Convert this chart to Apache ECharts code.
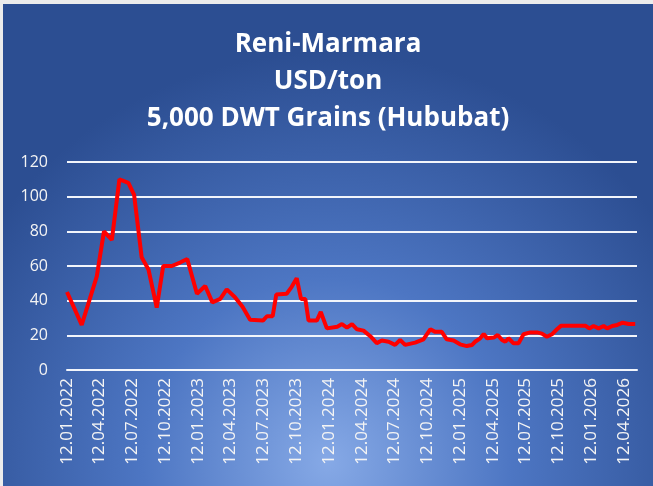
<!DOCTYPE html>
<html>
<head>
<meta charset="utf-8">
<script src="https://cdn.jsdelivr.net/npm/echarts@6/dist/echarts.min.js"></script>
<style>
  html, body { margin: 0; padding: 0; background: #ececec; }
  #chartArea { position: absolute; left: 3px; top: 4px; width: 650px; height: 482px; }
</style>
</head>
<body>
<div id="chartArea"></div>
<script>
let titleText = 'Reni-Marmara\nUSD/ton\n5,000 DWT Grains (Hububat)';

let dates = [
    '2022-01-12', '2022-02-22', '2022-04-05', '2022-04-25', '2022-05-17', '2022-06-07',
    '2022-07-02', '2022-07-18', '2022-08-08', '2022-08-27', '2022-09-19', '2022-10-07',
    '2022-10-31', '2022-11-23', '2022-12-13', '2023-01-09', '2023-02-01', '2023-02-21',
    '2023-03-15', '2023-04-02', '2023-04-25', '2023-05-16', '2023-06-06', '2023-07-12',
    '2023-07-23', '2023-08-08', '2023-08-18', '2023-09-16', '2023-09-30', '2023-10-14',
    '2023-10-26', '2023-11-07', '2023-11-16', '2023-12-09', '2023-12-20', '2024-01-06',
    '2024-02-04', '2024-02-17', '2024-03-02', '2024-03-16', '2024-03-30', '2024-04-17',
    '2024-05-06', '2024-05-24', '2024-06-07', '2024-06-26', '2024-07-14', '2024-07-28',
    '2024-08-11', '2024-09-08', '2024-10-01', '2024-10-20', '2024-11-03', '2024-11-21',
    '2024-12-05', '2024-12-24', '2025-01-11', '2025-01-30', '2025-02-13', '2025-02-22',
    '2025-03-08', '2025-03-18', '2025-03-27', '2025-04-15', '2025-04-26', '2025-05-08',
    '2025-05-17', '2025-05-26', '2025-06-09', '2025-06-23', '2025-07-07', '2025-07-26',
    '2025-08-13', '2025-08-27', '2025-09-10', '2025-09-24', '2025-10-08', '2025-10-20',
    '2025-12-26', '2026-01-06', '2026-01-18', '2026-02-01', '2026-02-15', '2026-02-25',
    '2026-03-11', '2026-03-25', '2026-04-09', '2026-04-26', '2026-05-14'
];

let values = [
    45, 26, 54, 80, 75, 110,
    108, 101, 65, 58, 36, 60,
    60, 62, 64, 44, 48.5, 39,
    41, 46.5, 42, 36.5, 29, 28.5,
    31, 31, 43.5, 44, 48, 53,
    41, 41, 28.5, 28.5, 33.5, 24,
    25, 26.5, 24.5, 26.5, 23.5, 22.7,
    19.5, 15.5, 17, 16.3, 14.5, 17.3,
    14.5, 15.8, 17.7, 23.5, 22, 22,
    17.7, 17, 14.8, 13.8, 14.4, 16.3,
    18.3, 20.8, 18.3, 18.7, 20.2, 17.3,
    16.3, 18.3, 15.4, 15.4, 20.6, 21.7,
    21.7, 21, 19.2, 20.6, 23.5, 25.6,
    25.6, 24, 25.4, 24, 25.4, 24,
    25.4, 26, 27.3, 26.5, 26.5
];

let tickDates = [
    '2022-01-12', '2022-04-12', '2022-07-12', '2022-10-12',
    '2023-01-12', '2023-04-12', '2023-07-12', '2023-10-12',
    '2024-01-12', '2024-04-12', '2024-07-12', '2024-10-12',
    '2025-01-12', '2025-04-12', '2025-07-12', '2025-10-12',
    '2026-01-12', '2026-04-12'
];
let tickLabels = [
    '12.01.2022', '12.04.2022', '12.07.2022', '12.10.2022',
    '12.01.2023', '12.04.2023', '12.07.2023', '12.10.2023',
    '12.01.2024', '12.04.2024', '12.07.2024', '12.10.2024',
    '12.01.2025', '12.04.2025', '12.07.2025', '12.10.2025',
    '12.01.2026', '12.04.2026'
];
let axisEnd = '2026-05-19';

// days counted from the first date, so the x axis can be a plain value axis
function toDay(s) {
    let p = s.split('-');
    let t = Date.UTC(+p[0], +p[1] - 1, +p[2]);
    let p0 = dates[0].split('-');
    return Math.round((t - Date.UTC(+p0[0], +p0[1] - 1, +p0[2])) / 86400000);
}

let tickDays = tickDates.map(toDay);
let seriesData = dates.map(function (d, i) { return [toDay(d), values[i]]; });

let myChart = echarts.init(document.getElementById('chartArea'));

let option = {
    backgroundColor: {
        type: 'radial',
        x: 0.5, y: 0.95, r: 0.85,
        colorStops: [
            {offset: 0, color: '#86a9e6'},
            {offset: 0.45, color: '#4d76c3'},
            {offset: 1, color: '#2c4e92'}
        ]
    },
    title: {
        text: titleText,
        left: 'center',
        top: 17,
        textStyle: {
            color: '#ffffff',
            fontFamily: 'Open Sans',
            fontWeight: 'bold',
            fontSize: 26,
            lineHeight: 37
        }
    },
    grid: {
        left: 64,
        right: 16,
        top: 158,
        bottom: 116,
        containLabel: false
    },
    xAxis: {
        type: 'value',
        min: 0,
        max: toDay(axisEnd),
        axisLine: {lineStyle: {color: '#f2f5fb', width: 2}},
        axisTick: {show: false},
        splitLine: {show: false},
        axisLabel: {
            customValues: tickDays,
            rotate: 90,
            margin: 8,
            color: '#f4f4f4',
            fontFamily: 'Open Sans',
            fontSize: 17,
            hideOverlap: false,
            formatter: function (v) {
                let i = tickDays.indexOf(v);
                return i >= 0 ? tickLabels[i] : '';
            }
        }
    },
    yAxis: {
        type: 'value',
        min: 0,
        max: 120,
        interval: 20,
        axisLine: {show: false},
        axisTick: {show: false},
        splitLine: {lineStyle: {color: '#f2f5fb', width: 2}},
        axisLabel: {
            margin: 19,
            color: '#f4f4f4',
            fontFamily: 'Open Sans',
            fontSize: 16
        }
    },
    series: [
        {
            type: 'line',
            data: seriesData,
            showSymbol: false,
            symbol: 'none',
            lineStyle: {color: '#ff0000', width: 4},
            itemStyle: {color: '#ff0000'}
        }
    ]
};

myChart.setOption(option);
</script>
</body>
</html>
